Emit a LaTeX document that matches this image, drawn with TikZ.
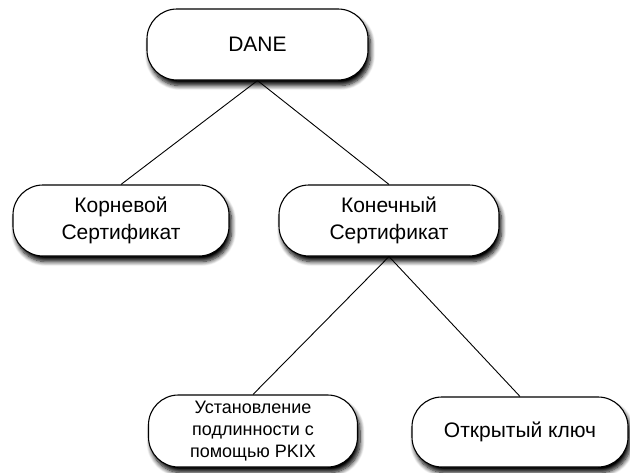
\documentclass[tikz,border=0pt]{standalone}
\usepackage{fontspec}
\setmainfont{Liberation Sans}
\usetikzlibrary{shadows.blur}
\begin{document}
\begin{tikzpicture}[x=1pt,y=-1pt,
  box/.style={draw=black, line width=1.1pt, fill=white, rounded corners=30pt,
    minimum height=71pt, inner sep=0pt, align=center,
    blur shadow={shadow xshift=2.5pt, shadow yshift=-5.5pt, shadow blur steps=8, shadow opacity=100, shadow blur radius=4.5pt}},
  big/.style={font=\fontsize{21}{27}\selectfont},
  small/.style={font=\fontsize{18}{22}\selectfont},
  link/.style={draw=black, line width=0.9pt}]
\useasboundingbox (0,0) rectangle (630,472);
\node[box, big, minimum width=221pt] (dane) at (257.5,44.5) {DANE};
\node[box, big, minimum width=216pt] (root) at (121,220.5) {Корневой\\Сертификат};
\node[box, big, minimum width=220pt] (end) at (389,220.5) {Конечный\\Сертификат};
\node[box, small, minimum width=209pt, minimum height=72pt] (pkix) at (253,431) {Установление\\подлинности с\\помощью PKIX};
\node[box, big, minimum width=216pt, minimum height=70pt] (key) at (520,432) {Открытый ключ};
\draw[link] (dane.south) -- (root.north);
\draw[link] (dane.south) -- (end.north);
\draw[link] (end.south) -- (pkix.north);
\draw[link] (end.south) -- (key.north);
\end{tikzpicture}
\end{document}
